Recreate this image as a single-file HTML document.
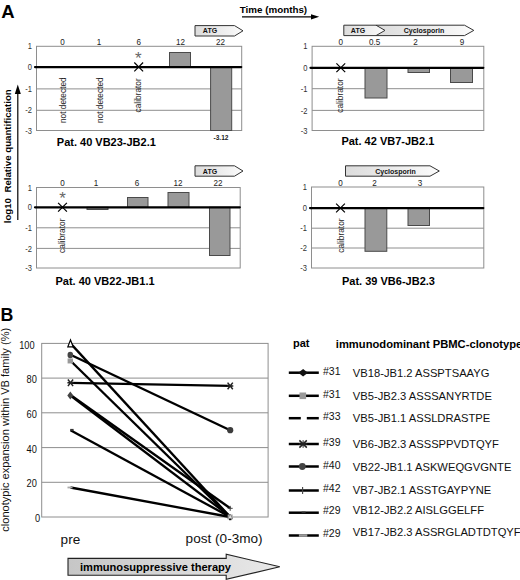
<!DOCTYPE html>
<html><head><meta charset="utf-8"><title>Figure</title>
<style>html,body{margin:0;padding:0;background:#fff;}svg{display:block;font-family:"Liberation Sans", Arial, sans-serif;}</style>
</head><body>
<svg width="520" height="580" viewBox="0 0 520 580">
<defs>
<linearGradient id="g1" x1="0" y1="0" x2="1" y2="0"><stop offset="0" stop-color="#dcdcdc"/><stop offset="1" stop-color="#fbfbfb"/></linearGradient>
<linearGradient id="g2" x1="0" y1="0" x2="1" y2="0"><stop offset="0" stop-color="#c6c6c6"/><stop offset="1" stop-color="#e9e9e9"/></linearGradient>
</defs>
<rect width="520" height="580" fill="#fff"/>
<text x="1.3" y="17.8" font-size="18.5" font-weight="bold" text-anchor="start" fill="#000" >A</text>
<text x="0.6" y="320.8" font-size="17.8" font-weight="bold" text-anchor="start" fill="#000" >B</text>
<text x="239.8" y="12.8" font-size="9.8" font-weight="bold" text-anchor="start" fill="#000" >Time (months)</text>
<line x1="242" y1="16.8" x2="312" y2="16.8" stroke="#000" stroke-width="1.3"/>
<polygon points="311,14.2 319.2,16.8 311,19.4" fill="#000"/>
<text transform="translate(10.6,223.3) rotate(-90)" font-size="9.7" font-weight="bold" text-anchor="start" fill="#000">log10&#160;&#160;Relative quantification</text>
<line x1="17.8" y1="92" x2="17.8" y2="220" stroke="#000" stroke-width="1.2"/>
<polygon points="14.8,94 17.8,84.5 20.8,94" fill="#000"/>
<rect x="36.5" y="46.3" width="205.2" height="84.2" fill="#fff" stroke="#8e8e8e" stroke-width="1"/>
<line x1="36.5" y1="88.9" x2="241.7" y2="88.9" stroke="#8e8e8e" stroke-width="1"/>
<line x1="36.5" y1="110.3" x2="241.7" y2="110.3" stroke="#8e8e8e" stroke-width="1"/>
<text transform="translate(31.9,49.4) scale(0.86,1)" font-size="8.8" font-weight="normal" text-anchor="end" fill="#333">1</text>
<text transform="translate(31.9,70.19999999999999) scale(0.86,1)" font-size="8.8" font-weight="normal" text-anchor="end" fill="#333">0</text>
<text transform="translate(31.9,92.0) scale(0.86,1)" font-size="8.8" font-weight="normal" text-anchor="end" fill="#333">-1</text>
<text transform="translate(31.9,113.39999999999999) scale(0.86,1)" font-size="8.8" font-weight="normal" text-anchor="end" fill="#333">-2</text>
<text transform="translate(31.9,133.6) scale(0.86,1)" font-size="8.8" font-weight="normal" text-anchor="end" fill="#333">-3</text>
<rect x="169.5" y="52.5" width="21.0" height="14.599999999999994" fill="#999" stroke="#4a4a4a" stroke-width="1"/>
<rect x="210.6" y="67.1" width="21.099999999999994" height="63.400000000000006" fill="#999" stroke="#4a4a4a" stroke-width="1"/>
<line x1="35" y1="67.1" x2="241.2" y2="67.1" stroke="#000" stroke-width="2.25" stroke-linecap="round"/>
<text transform="translate(62.5,45.2) scale(0.9,1)" font-size="9" font-weight="normal" text-anchor="middle" fill="#222">0</text>
<text transform="translate(99,45.2) scale(0.9,1)" font-size="9" font-weight="normal" text-anchor="middle" fill="#222">1</text>
<text transform="translate(138.7,45.2) scale(0.9,1)" font-size="9" font-weight="normal" text-anchor="middle" fill="#222">6</text>
<text transform="translate(180.5,45.2) scale(0.9,1)" font-size="9" font-weight="normal" text-anchor="middle" fill="#222">12</text>
<text transform="translate(220.5,45.2) scale(0.9,1)" font-size="9" font-weight="normal" text-anchor="middle" fill="#222">22</text>
<path d="M134.29999999999998,62.50000000000001 L143.1,71.30000000000001 M134.29999999999998,71.30000000000001 L143.1,62.50000000000001" stroke="#000" stroke-width="1.2" fill="none"/>
<text x="138.4" y="63.5" font-size="17" font-weight="normal" text-anchor="middle" fill="#666" >*</text>
<text transform="translate(66,123) rotate(-90)" font-size="8.3" font-weight="normal" text-anchor="start" fill="#222">not detected</text>
<text transform="translate(102.5,123) rotate(-90)" font-size="8.3" font-weight="normal" text-anchor="start" fill="#222">not detected</text>
<text transform="translate(141.3,112.4) rotate(-90)" font-size="8.3" font-weight="normal" text-anchor="start" fill="#222">calibrator</text>
<text x="221" y="139.6" font-size="6.6" font-weight="bold" text-anchor="middle" fill="#222" >-3.12</text>
<text x="56.8" y="146.4" font-size="11" font-weight="bold" text-anchor="start" fill="#000" >Pat. 40 VB23-JB2.1</text>
<polygon points="195,25.6 234.5,25.6 243,30.8 234.5,36 195,36" fill="url(#g1)" stroke="#333" stroke-width="1"/>
<text x="210" y="33.4" font-size="7" font-weight="bold" text-anchor="middle" fill="#111" >ATG</text>
<rect x="312.1" y="46.3" width="171.7" height="84.2" fill="#fff" stroke="#8e8e8e" stroke-width="1"/>
<line x1="312.1" y1="88.7" x2="483.8" y2="88.7" stroke="#8e8e8e" stroke-width="1"/>
<line x1="312.1" y1="110.4" x2="483.8" y2="110.4" stroke="#8e8e8e" stroke-width="1"/>
<text transform="translate(307.5,49.4) scale(0.86,1)" font-size="8.8" font-weight="normal" text-anchor="end" fill="#333">1</text>
<text transform="translate(307.5,70.6) scale(0.86,1)" font-size="8.8" font-weight="normal" text-anchor="end" fill="#333">0</text>
<text transform="translate(307.5,91.8) scale(0.86,1)" font-size="8.8" font-weight="normal" text-anchor="end" fill="#333">-1</text>
<text transform="translate(307.5,113.5) scale(0.86,1)" font-size="8.8" font-weight="normal" text-anchor="end" fill="#333">-2</text>
<text transform="translate(307.5,133.6) scale(0.86,1)" font-size="8.8" font-weight="normal" text-anchor="end" fill="#333">-3</text>
<rect x="365" y="67.5" width="22" height="30.5" fill="#999" stroke="#4a4a4a" stroke-width="1"/>
<rect x="408" y="67.5" width="21.5" height="5.0" fill="#999" stroke="#4a4a4a" stroke-width="1"/>
<rect x="450.5" y="67.5" width="22.0" height="15.0" fill="#999" stroke="#4a4a4a" stroke-width="1"/>
<line x1="310.5" y1="67.8" x2="483.3" y2="67.8" stroke="#000" stroke-width="2.25" stroke-linecap="round"/>
<text transform="translate(340.8,45.2) scale(0.9,1)" font-size="9" font-weight="normal" text-anchor="middle" fill="#222">0</text>
<text transform="translate(374.5,45.2) scale(0.9,1)" font-size="9" font-weight="normal" text-anchor="middle" fill="#222">0.5</text>
<text transform="translate(415.5,45.2) scale(0.9,1)" font-size="9" font-weight="normal" text-anchor="middle" fill="#222">2</text>
<text transform="translate(462,45.2) scale(0.9,1)" font-size="9" font-weight="normal" text-anchor="middle" fill="#222">9</text>
<path d="M336.40000000000003,63.300000000000004 L345.2,72.10000000000001 M336.40000000000003,72.10000000000001 L345.2,63.300000000000004" stroke="#000" stroke-width="1.2" fill="none"/>
<text transform="translate(343.4,112.8) rotate(-90)" font-size="8.4" font-weight="normal" text-anchor="start" fill="#222">calibrator</text>
<text x="341.4" y="145.0" font-size="11" font-weight="bold" text-anchor="start" fill="#000" >Pat. 42 VB7-JB2.1</text>
<polygon points="376,25.2 464.5,25.2 473.8,30.4 464.5,35.6 376,35.6" fill="url(#g1)" stroke="#333" stroke-width="1"/>
<text x="424" y="33.0" font-size="7" font-weight="bold" text-anchor="middle" fill="#111" >Cyclosporin</text>
<polygon points="343.8,25.2 376,25.2 385,30.4 376,35.6 343.8,35.6" fill="url(#g1)" stroke="#333" stroke-width="1"/>
<text x="358" y="33.0" font-size="7" font-weight="bold" text-anchor="middle" fill="#111" >ATG</text>
<rect x="36.5" y="187.5" width="203.7" height="80.5" fill="#fff" stroke="#8e8e8e" stroke-width="1"/>
<line x1="36.5" y1="227.8" x2="240.2" y2="227.8" stroke="#8e8e8e" stroke-width="1"/>
<line x1="36.5" y1="248.4" x2="240.2" y2="248.4" stroke="#8e8e8e" stroke-width="1"/>
<text transform="translate(31.9,190.6) scale(0.86,1)" font-size="8.8" font-weight="normal" text-anchor="end" fill="#333">1</text>
<text transform="translate(31.9,210.4) scale(0.86,1)" font-size="8.8" font-weight="normal" text-anchor="end" fill="#333">0</text>
<text transform="translate(31.9,230.9) scale(0.86,1)" font-size="8.8" font-weight="normal" text-anchor="end" fill="#333">-1</text>
<text transform="translate(31.9,251.5) scale(0.86,1)" font-size="8.8" font-weight="normal" text-anchor="end" fill="#333">-2</text>
<text transform="translate(31.9,271.1) scale(0.86,1)" font-size="8.8" font-weight="normal" text-anchor="end" fill="#333">-3</text>
<rect x="87" y="207.3" width="21" height="2.1999999999999886" fill="#999" stroke="#4a4a4a" stroke-width="1"/>
<rect x="127.5" y="197.5" width="20.5" height="9.800000000000011" fill="#999" stroke="#4a4a4a" stroke-width="1"/>
<rect x="168" y="192.5" width="21" height="14.800000000000011" fill="#999" stroke="#4a4a4a" stroke-width="1"/>
<rect x="209.5" y="207.3" width="20.5" height="48.19999999999999" fill="#999" stroke="#4a4a4a" stroke-width="1"/>
<line x1="35" y1="207.3" x2="239.8" y2="207.3" stroke="#000" stroke-width="2.25" stroke-linecap="round"/>
<text transform="translate(62.5,186.0) scale(0.9,1)" font-size="9" font-weight="normal" text-anchor="middle" fill="#222">0</text>
<text transform="translate(96,186.0) scale(0.9,1)" font-size="9" font-weight="normal" text-anchor="middle" fill="#222">1</text>
<text transform="translate(137,186.0) scale(0.9,1)" font-size="9" font-weight="normal" text-anchor="middle" fill="#222">6</text>
<text transform="translate(178,186.0) scale(0.9,1)" font-size="9" font-weight="normal" text-anchor="middle" fill="#222">12</text>
<text transform="translate(218,186.0) scale(0.9,1)" font-size="9" font-weight="normal" text-anchor="middle" fill="#222">22</text>
<path d="M58.1,202.9 L66.9,211.70000000000002 M58.1,211.70000000000002 L66.9,202.9" stroke="#000" stroke-width="1.2" fill="none"/>
<text x="62.5" y="204.1" font-size="17" font-weight="normal" text-anchor="middle" fill="#666" >*</text>
<text transform="translate(64.6,252.9) rotate(-90)" font-size="8.4" font-weight="normal" text-anchor="start" fill="#222">calibrator</text>
<text x="55.5" y="285.2" font-size="11" font-weight="bold" text-anchor="start" fill="#000" >Pat. 40 VB22-JB1.1</text>
<polygon points="195,165.8 234.5,165.8 243,171.0 234.5,176.2 195,176.2" fill="url(#g1)" stroke="#333" stroke-width="1"/>
<text x="210" y="173.6" font-size="7" font-weight="bold" text-anchor="middle" fill="#111" >ATG</text>
<rect x="311.5" y="187" width="172.3" height="81" fill="#fff" stroke="#8e8e8e" stroke-width="1"/>
<line x1="311.5" y1="228.2" x2="483.8" y2="228.2" stroke="#8e8e8e" stroke-width="1"/>
<line x1="311.5" y1="248" x2="483.8" y2="248" stroke="#8e8e8e" stroke-width="1"/>
<text transform="translate(306.9,190.1) scale(0.86,1)" font-size="8.8" font-weight="normal" text-anchor="end" fill="#333">1</text>
<text transform="translate(306.9,211.1) scale(0.86,1)" font-size="8.8" font-weight="normal" text-anchor="end" fill="#333">0</text>
<text transform="translate(306.9,231.29999999999998) scale(0.86,1)" font-size="8.8" font-weight="normal" text-anchor="end" fill="#333">-1</text>
<text transform="translate(306.9,251.1) scale(0.86,1)" font-size="8.8" font-weight="normal" text-anchor="end" fill="#333">-2</text>
<text transform="translate(306.9,271.1) scale(0.86,1)" font-size="8.8" font-weight="normal" text-anchor="end" fill="#333">-3</text>
<rect x="365" y="208" width="21.80000000000001" height="43.30000000000001" fill="#999" stroke="#4a4a4a" stroke-width="1"/>
<rect x="408" y="208" width="21.5" height="17.5" fill="#999" stroke="#4a4a4a" stroke-width="1"/>
<line x1="310" y1="208" x2="483.3" y2="208" stroke="#000" stroke-width="2.25" stroke-linecap="round"/>
<text transform="translate(340.5,186.3) scale(0.9,1)" font-size="9" font-weight="normal" text-anchor="middle" fill="#222">0</text>
<text transform="translate(374.5,186.3) scale(0.9,1)" font-size="9" font-weight="normal" text-anchor="middle" fill="#222">2</text>
<text transform="translate(420,186.3) scale(0.9,1)" font-size="9" font-weight="normal" text-anchor="middle" fill="#222">3</text>
<path d="M336.1,203.6 L344.9,212.4 M336.1,212.4 L344.9,203.6" stroke="#000" stroke-width="1.2" fill="none"/>
<text transform="translate(343.6,252.8) rotate(-90)" font-size="8.4" font-weight="normal" text-anchor="start" fill="#222">calibrator</text>
<text x="342" y="285.4" font-size="11" font-weight="bold" text-anchor="start" fill="#000" >Pat. 39 VB6-JB2.3</text>
<polygon points="345.5,165.8 430,165.8 439.3,171.0 430,176.2 345.5,176.2" fill="url(#g1)" stroke="#333" stroke-width="1"/>
<text x="395.5" y="173.6" font-size="7" font-weight="bold" text-anchor="middle" fill="#111" >Cyclosporin</text>
<rect x="41.7" y="343.4" width="226.40000000000003" height="173.60000000000002" fill="#fff" stroke="#8e8e8e" stroke-width="1"/>
<line x1="41.7" y1="482.3" x2="268.1" y2="482.3" stroke="#8e8e8e" stroke-width="1"/>
<line x1="41.7" y1="447.6" x2="268.1" y2="447.6" stroke="#8e8e8e" stroke-width="1"/>
<line x1="41.7" y1="412.8" x2="268.1" y2="412.8" stroke="#8e8e8e" stroke-width="1"/>
<line x1="41.7" y1="378.1" x2="268.1" y2="378.1" stroke="#8e8e8e" stroke-width="1"/>
<text transform="translate(40.2,522.1) scale(0.9,1)" font-size="10.3" text-anchor="end" fill="#111">0</text>
<text transform="translate(36.9,487.4) scale(0.9,1)" font-size="10.3" text-anchor="end" fill="#111">20</text>
<text transform="translate(36.9,452.7) scale(0.9,1)" font-size="10.3" text-anchor="end" fill="#111">40</text>
<text transform="translate(36.9,417.9) scale(0.9,1)" font-size="10.3" text-anchor="end" fill="#111">60</text>
<text transform="translate(36.9,383.2) scale(0.9,1)" font-size="10.3" text-anchor="end" fill="#111">80</text>
<text transform="translate(34.6,348.5) scale(0.9,1)" font-size="10.3" text-anchor="end" fill="#111">100</text>
<text transform="translate(9.0,531.7) rotate(-90)" font-size="11.05" font-weight="normal" text-anchor="start" fill="#111">clonotypic expansion within VB family (%)</text>
<line x1="70.5" y1="343.4" x2="230.2" y2="517.0" stroke="#000" stroke-width="2.3"/>
<line x1="70.5" y1="354.7" x2="230.2" y2="430.2" stroke="#000" stroke-width="2.3"/>
<line x1="70.5" y1="360.8" x2="230.2" y2="517.0" stroke="#000" stroke-width="2.3"/>
<line x1="70.5" y1="382.8" x2="230.2" y2="385.9" stroke="#000" stroke-width="2.3"/>
<line x1="70.5" y1="395.5" x2="230.2" y2="516.5" stroke="#000" stroke-width="2.3"/>
<line x1="70.5" y1="430.2" x2="230.2" y2="517.0" stroke="#000" stroke-width="2.3"/>
<line x1="70.5" y1="487.5" x2="230.2" y2="517.0" stroke="#000" stroke-width="2.3"/>
<line x1="70.5" y1="395.0" x2="230.2" y2="508.3" stroke="#000" stroke-width="2.3"/>
<polygon points="67.8,346.9 70.5,340.0 73.2,346.9" fill="#fff" stroke="#000" stroke-width="1.2"/>
<rect x="67.6" y="358.46" width="5.4" height="5" fill="#999"/>
<ellipse cx="70.3" cy="354.984" rx="2.8" ry="3.3" fill="#444"/>
<path d="M67.9,379.50719999999995 L73.1,386.1072 M67.9,386.1072 L73.1,379.50719999999995 M67.4,382.80719999999997 L73.6,382.80719999999997" stroke="#222" stroke-width="1.5" fill="none"/>
<polygon points="67.3,395.47999999999996 70.3,391.58 73.3,395.47999999999996 70.3,399.37999999999994" fill="#444"/>
<rect x="70.2" y="428.9" width="3.4" height="2" fill="#333"/>
<rect x="67.5" y="486.588" width="5" height="1.8" fill="#aaa"/>
<path d="M227.6,382.632 L232.79999999999998,389.232 M227.6,389.232 L232.79999999999998,382.632 M227.1,385.932 L233.29999999999998,385.932" stroke="#222" stroke-width="1.5" fill="none"/>
<circle cx="230.2" cy="430.2" r="3.1" fill="#3c3c3c"/>
<path d="M227.7,508.32 L232.7,508.32 M230.2,505.82 L230.2,510.82" stroke="#444" stroke-width="1"/>
<rect x="227.7" y="514.5" width="5" height="4" fill="#aaa"/>
<polygon points="227.7,519.0 230.2,514.0 232.7,519.0" fill="#ddd" stroke="#666" stroke-width="0.6"/>
<rect x="229.0" y="518.6" width="2.4" height="1.6" fill="#111"/>
<text x="60.6" y="544" font-size="13.6" font-weight="normal" text-anchor="start" fill="#111" >pre</text>
<text x="185.6" y="543.4" font-size="13.6" font-weight="normal" text-anchor="start" fill="#111" >post (0-3mo)</text>
<polygon points="68,558.4 226.2,558.4 226.2,554.3 279.8,566.8 226.2,579.3 226.2,575.2 68,575.2" fill="url(#g2)" stroke="#222" stroke-width="1.1"/>
<text x="80" y="570.9" font-size="11.1" font-weight="bold" text-anchor="start" fill="#000" >immunosuppressive therapy</text>
<text x="293" y="347.2" font-size="11" font-weight="bold" text-anchor="start" fill="#000" >pat</text>
<text x="335.8" y="348" font-size="11.2" font-weight="bold" text-anchor="start" fill="#000" >immunodominant PBMC-clonotype</text>
<line x1="288.8" y1="372.7" x2="318.8" y2="372.7" stroke="#000" stroke-width="2.5"/>
<text x="323" y="375.3" font-size="10.5" font-weight="normal" text-anchor="start" fill="#111" >#31</text>
<text x="352.8" y="376.9" font-size="11.2" font-weight="normal" text-anchor="start" fill="#111" >VB18-JB1.2 ASSPTSAAYG</text>
<line x1="288.8" y1="395.8" x2="318.8" y2="395.8" stroke="#000" stroke-width="2.5"/>
<text x="323" y="397.70000000000005" font-size="10.5" font-weight="normal" text-anchor="start" fill="#111" >#31</text>
<text x="352.8" y="400.0" font-size="11.2" font-weight="normal" text-anchor="start" fill="#111" >VB5-JB2.3 ASSSANYRTDE</text>
<line x1="288.8" y1="418.2" x2="300.8" y2="418.2" stroke="#000" stroke-width="2.5"/>
<line x1="306.8" y1="418.2" x2="318.8" y2="418.2" stroke="#000" stroke-width="2.5"/>
<text x="323" y="420.1" font-size="10.5" font-weight="normal" text-anchor="start" fill="#111" >#33</text>
<text x="352.8" y="421.7" font-size="11.2" font-weight="normal" text-anchor="start" fill="#111" >VB5-JB1.1 ASSLDRASTPE</text>
<line x1="288.8" y1="444" x2="318.8" y2="444" stroke="#000" stroke-width="2.5"/>
<text x="323" y="445.90000000000003" font-size="10.5" font-weight="normal" text-anchor="start" fill="#111" >#39</text>
<text x="352.8" y="447.9" font-size="11.2" font-weight="normal" text-anchor="start" fill="#111" >VB6-JB2.3 ASSSPPVDTQYF</text>
<line x1="288.8" y1="466.5" x2="318.8" y2="466.5" stroke="#000" stroke-width="2.5"/>
<text x="323" y="469.1" font-size="10.5" font-weight="normal" text-anchor="start" fill="#111" >#40</text>
<text x="352.8" y="470.7" font-size="11.2" font-weight="normal" text-anchor="start" fill="#111" >VB22-JB1.1 ASKWEQGVGNTE</text>
<line x1="288.8" y1="490.5" x2="318.8" y2="490.5" stroke="#000" stroke-width="2.5"/>
<text x="323" y="492.1" font-size="10.5" font-weight="normal" text-anchor="start" fill="#111" >#42</text>
<text x="352.8" y="494.0" font-size="11.2" font-weight="normal" text-anchor="start" fill="#111" >VB7-JB2.1 ASSTGAYPYNE</text>
<line x1="288.8" y1="512.7" x2="318.8" y2="512.7" stroke="#000" stroke-width="2.5"/>
<text x="323" y="513.9000000000001" font-size="10.5" font-weight="normal" text-anchor="start" fill="#111" >#29</text>
<text x="352.8" y="514.3000000000001" font-size="11.2" font-weight="normal" text-anchor="start" fill="#111" >VB12-JB2.2 AISLGGELFF</text>
<line x1="288.8" y1="535.5" x2="318.8" y2="535.5" stroke="#000" stroke-width="2.5"/>
<text x="323" y="536.6" font-size="10.5" font-weight="normal" text-anchor="start" fill="#111" >#29</text>
<text x="352.8" y="536.1" font-size="11.2" font-weight="normal" text-anchor="start" fill="#111" >VB17-JB2.3 ASSRGLADTDTQYF</text>
<polygon points="298.3,372.7 303.1,368.9 307.90000000000003,372.7 303.1,376.5" fill="#111"/>
<rect x="299.5" y="392.5" width="6.6" height="6.6" fill="#999"/>
<path d="M299.40000000000003,440.4 L306.8,447.6 M299.40000000000003,447.6 L306.8,440.4 M298.90000000000003,444 L307.3,444" stroke="#222" stroke-width="1.5" fill="none"/>
<path d="M303.1,440.2 L303.1,447.8" stroke="#222" stroke-width="1"/>
<circle cx="302.3" cy="466.5" r="3.4" fill="#444"/>
<path d="M302.6,486.9 L302.6,494.1" stroke="#444" stroke-width="1.1"/>
<rect x="301.6" y="511.1" width="4" height="1.4" fill="#555"/>
<rect x="298.90000000000003" y="534.2" width="8.4" height="2.6" fill="#999"/>
</svg>
</body></html>
